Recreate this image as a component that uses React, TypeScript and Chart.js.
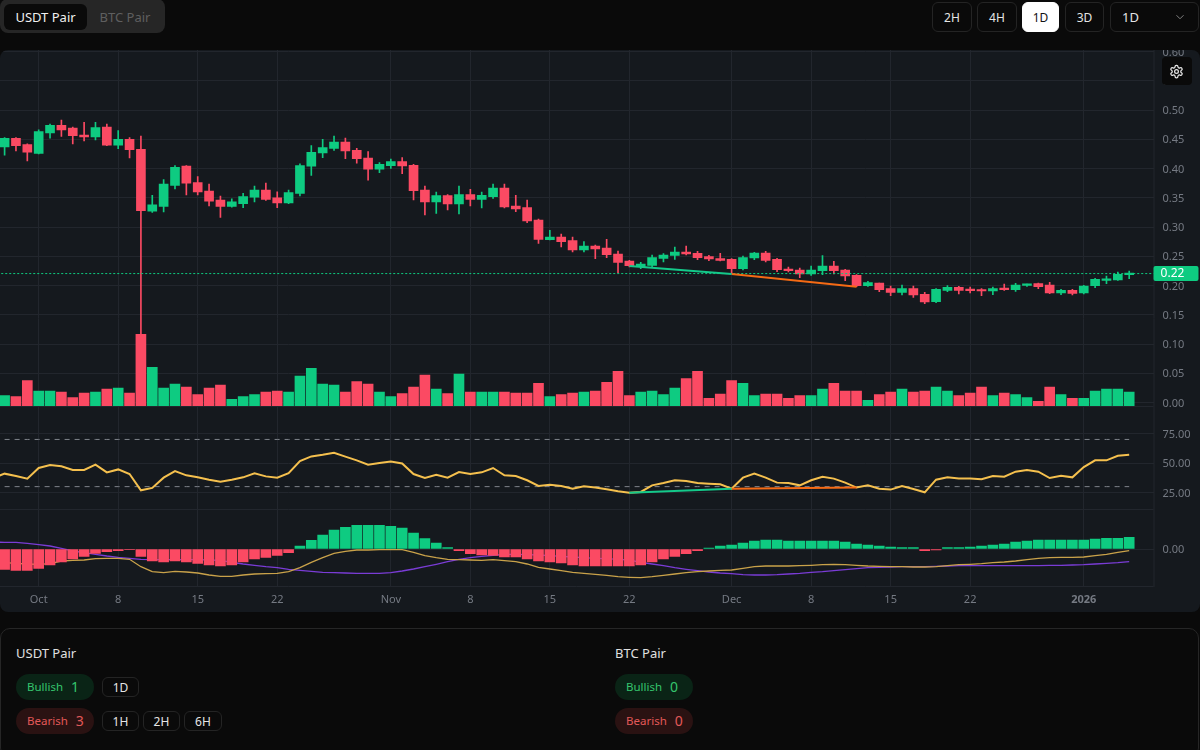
import React, { useEffect, useRef } from "react";
import { Chart, registerables } from "chart.js";

Chart.register(...registerables);

const opens = [
  .437,.4516,.441,.426,.461,.474,.469,.457,.454,.471,
  .440,.450,.433,.327,.335,.371,.404,.376,.3615,.346,
  .335,.340,.351,.363,.350,.341,.3575,.404,.4265,.4345,
  .445,.431,.418,.399,.405,.4117,.4054,.3632,.3427,.3536,
  .3393,.3553,.3473,.3518,.3667,.3359,.3330,.3120,.2783,.2829,
  .2766,.2607,.2675,.2641,.2538,.2419,.2322,.2345,.2464,.2516,
  .2573,.2550,.2493,.2459,.2447,.2288,.2470,.2556,.2447,.2282,
  .2265,.2197,.2254,.2334,.2265,.2174,.1997,.2043,.1946,.1883,
  .1946,.1849,.1724,.1918,.1969,.1940,.1929,.1906,.1952,.1929,
  .2003,.2031,.2009,.1872,.1918,.1872,.1997,.2088,.2094,.2185,
];
const closes = [
  .4516,.439,.428,.463,.474,.466,.456,.454,.470,.440,
  .450,.432,.328,.338,.3735,.402,.375,.360,.344,.335,
  .343,.352,.363,.347,.341,.3587,.405,.4276,.4356,.445,
  .430,.417,.399,.407,.412,.4043,.3621,.3427,.3536,.3393,
  .3553,.3473,.3541,.3667,.3342,.3308,.3103,.2789,.2829,.2749,
  .2607,.2675,.2624,.2527,.2396,.2339,.2367,.2476,.2521,.2573,
  .2538,.2476,.2453,.2430,.2288,.2476,.2556,.2430,.2271,.2253,
  .2197,.2265,.2334,.2254,.2163,.1997,.2049,.1929,.1883,.1946,
  .1838,.1718,.1935,.1969,.1918,.1912,.1906,.1946,.1929,.2009,
  .2026,.1980,.1872,.1918,.1866,.1992,.2106,.2100,.2191,.2202,
];
const highs = [
  .453,.453,.442,.466,.476,.483,.471,.479,.479,.476,
  .465,.453,.4556,.354,.381,.405,.405,.386,.3735,.353,
  .348,.3575,.370,.375,.360,.363,.408,.439,.45,.4556,
  .452,.4345,.429,.41,.416,.4185,.407,.3701,.3598,.3553,
  .3701,.3644,.3598,.3735,.3735,.3541,.3461,.3137,.2943,.2880,
  .2829,.2749,.2692,.2789,.2590,.2430,.2396,.2521,.2544,.2658,
  .2675,.2584,.2516,.2550,.2459,.2504,.2567,.2584,.2464,.2316,
  .2299,.2334,.2510,.2413,.2277,.2185,.2071,.2043,.1992,.2009,
  .1992,.1883,.1946,.1997,.1986,.1975,.1946,.1975,.2026,.2037,
  .2026,.2043,.2054,.1935,.1935,.2003,.2123,.2163,.2231,.2248,
];
const lows = [
  .423,.430,.413,.425,.452,.455,.442,.447,.449,.439,
  .434,.418,.1154,.325,.326,.365,.355,.355,.336,.3165,
  .334,.333,.343,.3456,.333,.340,.353,.388,.4185,.431,
  .417,.409,.380,.393,.40,.391,.3461,.3205,.3234,.3291,
  .3222,.3359,.3325,.3490,.3325,.3262,.3074,.2721,.2778,.2658,
  .2573,.2573,.2459,.2476,.2219,.2316,.2288,.2310,.2402,.2447,
  .2521,.2442,.2424,.2419,.2197,.2265,.2442,.2402,.2236,.2231,
  .2134,.2174,.2185,.2197,.2083,.1980,.1986,.1895,.1826,.1838,
  .1798,.1690,.1707,.1895,.1855,.1872,.1826,.1843,.1918,.1901,
  .1986,.1946,.1861,.1843,.1838,.1855,.1963,.2031,.2088,.2117,
];
const volumes = [
  .0117,.0100,.0373,.0197,.0197,.0179,.0083,.0162,.0179,.0231,
  .0248,.0162,.1165,.0601,.0248,.0316,.0265,.0134,.0248,.0299,
  .0054,.0100,.0134,.0179,.0197,.0179,.0453,.0584,.0316,.0299,
  .0179,.0356,.0316,.0179,.0100,.0151,.0265,.0470,.0231,.0151,
  .0487,.0179,.0179,.0179,.0179,.0162,.0162,.0328,.0100,.0134,
  .0162,.0179,.0197,.0345,.0533,.0117,.0179,.0197,.0134,.0248,
  .0407,.0533,.0071,.0145,.0373,.0328,.0117,.0145,.0145,.0071,
  .0117,.0117,.0231,.0328,.0197,.0197,.0037,.0134,.0179,.0231,
  .0179,.0197,.0265,.0197,.0117,.0162,.0265,.0117,.0162,.0134,
  .0083,.0020,.0265,.0134,.0071,.0071,.0197,.0231,.0231,.0179,
];
const rsi = [
  41.0,39.0,36.8,45.8,48.3,47.2,44.1,44.1,48.6,42.1,
  44.6,40.7,26.9,28.9,37.6,43.2,39.6,37.9,35.9,34.2,
  35.9,37.9,41.3,38.7,37.6,41.5,51.7,55.6,57.0,58.7,
  55.4,52.3,48.6,50.0,51.4,49.7,40.7,37.3,40.1,37.6,
  42.4,40.7,42.1,45.8,39.6,39.0,35.4,30.6,31.7,30.6,
  28.3,30.3,29.2,27.7,26.1,24.9,25.5,31.1,33.1,35.4,
  34.8,33.1,32.5,32.0,28.3,37.6,41.0,37.6,33.4,33.1,
  31.1,35.4,38.4,36.8,33.4,29.2,31.1,28.3,27.5,30.6,
  28.0,25.2,35.9,37.9,36.8,36.8,36.2,39.0,38.4,42.7,
  44.1,42.7,37.3,39.3,37.9,46.6,52.3,52.3,56.2,57.0,
];
const macdHist = [
  -20.3,-21.3,-21.3,-19.3,-16,-13,-10,-7.3,-4.3,-2.7,
  -1.7,-0.7,-7.3,-12,-13,-12,-13,-14.3,-16,-17,
  -16,-13,-10,-8.3,-6.3,-3.7,3,8.7,14,19,
  21.7,23.7,23.7,23.7,22.7,21,16,10.3,6,1.3,
  -1.7,-4.7,-6,-6.3,-8,-8,-10,-12,-13,-14,
  -16,-17,-17,-17,-17,-17,-16,-13,-10,-7.3,
  -4.7,-1.7,1,3,4,6,8,9,9,8,
  8,8,8,8,7,5,4,3,2,1.3,
  1.3,-1.7,-1,1.3,1.3,2,3,4,5,7,
  8,9,9,9,9,9,10,10.7,10.7,11.7,
];
const macdPurple = [
  6.7,6.7,5.7,4.3,3.0,0.7,-2.0,-3.7,-5.3,-7.0,
  -8.3,-9.3,-10.3,-10.7,-10.7,-10.7,-10.7,-10.7,-11.0,-11.3,
  -13.3,-15.0,-16.3,-17.7,-18.7,-20.3,-21.3,-22.3,-23.3,-23.7,
  -24.0,-24.3,-24.3,-24.3,-23.7,-22.0,-20.0,-17.7,-15.3,-12.7,
  -10.3,-8.7,-7.3,-6.3,-5.3,-5.3,-5.7,-6.0,-6.7,-7.3,
  -8.0,-8.7,-9.3,-9.7,-10.3,-11.0,-13.3,-15.0,-16.7,-18.7,
  -20.3,-21.7,-23.0,-24.0,-24.7,-25.7,-26.0,-26.0,-25.7,-25.0,
  -24.3,-23.3,-22.7,-21.7,-20.7,-19.7,-18.7,-18.3,-18.0,-17.7,
  -17.7,-17.7,-17.3,-17.0,-16.7,-16.7,-16.7,-16.7,-16.7,-16.7,
  -16.7,-16.7,-16.3,-16.3,-16.0,-15.7,-15.0,-14.3,-13.7,-12.7,
];
const macdTan = [
  -13.7,-14.3,-15,-15.3,-14.7,-12,-11.3,-11,-9.7,-9.3,
  -9.3,-10.3,-17.7,-22.7,-23.7,-22.3,-23,-24,-26,-27.3,
  -27.3,-26,-25,-24.7,-24.3,-22.7,-18.7,-13.3,-8.7,-4.3,
  -2.3,-1,-1,-0.7,-0.7,-0.7,-3.3,-6.7,-8.7,-10.3,
  -10.7,-11,-11.3,-10.7,-11.7,-12.7,-15,-18.3,-20,-21.7,
  -23.3,-24.3,-25.3,-26.3,-27.7,-28.3,-28.7,-27.7,-26.3,-25,
  -23.7,-22.7,-22,-21.3,-21,-19.3,-17.7,-17,-17,-17,
  -16.7,-16.3,-15.7,-15.3,-15.7,-16.3,-17,-17.3,-17.7,-17.7,
  -18,-18,-17.7,-16.7,-15.7,-15.3,-14.7,-13.7,-13,-12,
  -10.7,-9.3,-8.7,-8.3,-8.3,-8,-6.7,-5.3,-3.3,-1.7,
];
// values for the day just left of the visible range; only their lines enter the pane
const rsiBefore = 37.3;
const purpleBefore = 6.8;
const tanBefore = -13;
const dayBefore = -1;
const rsiUpper = 70;
const rsiLower = 30;
const lastPrice = 0.2204;
const bullDays = [55, 64];
const bullPrice = [0.2333, 0.2197];
const bullRsi = [24.9, 28.3];
const bearDays = [64, 75];
const bearPrice = [0.2197, 0.198];
const bearRsi = [28.3, 29.2];
const xTickDays = [3, 10, 17, 24, 34, 41, 48, 55, 64, 71, 78, 85, 95];
const xTickLabels = ["Oct", "8", "15", "22", "Nov", "8", "15", "22", "Dec", "8", "15", "22", "2026"];
const priceTicks = [0, .05, .1, .15, .2, .25, .3, .35, .4, .45, .5, .55, .6];
const rsiTicks = [25, 50, 75];
const macdTicks = [0];

const GREEN = "#0ecb81";
const RED = "#fb4a63";
const GRID = "#22262d";
const TICK = "#757a83";
const FONT = '"Noto Sans", sans-serif';

const days = opens.map((_, i) => i);
const dirColors = opens.map((o, i) => (closes[i] >= o ? GREEN : RED));

const panePlugin = {
  id: "panes",
  afterDraw(chart: any) {
    const { ctx, chartArea, scales } = chart;
    ctx.save();
    ctx.strokeStyle = GRID;
    ctx.lineWidth = 1;
    [scales.y.bottom, scales.yRsi.bottom, scales.yMacd.bottom].forEach((v: number) => {
      ctx.beginPath();
      ctx.moveTo(chartArea.left, Math.round(v) - 0.5);
      ctx.lineTo(chartArea.right, Math.round(v) - 0.5);
      ctx.stroke();
    });
    ctx.beginPath();
    ctx.moveTo(chartArea.right + 0.5, chartArea.top);
    ctx.lineTo(chartArea.right + 0.5, chartArea.bottom);
    ctx.stroke();
    const py = scales.y.getPixelForValue(lastPrice);
    ctx.fillStyle = GREEN;
    ctx.beginPath();
    ctx.roundRect(chartArea.right, py - 7.5, 45, 15, 2);
    ctx.fill();
    ctx.fillStyle = "#ffffff";
    ctx.font = `12px ${FONT}`;
    ctx.textAlign = "center";
    ctx.textBaseline = "middle";
    ctx.fillText(lastPrice.toFixed(2), chartArea.right + 19, py + 0.5);
    ctx.restore();
  },
};

function yScale(stackWeight: number, min: number, max: number, ticks: number[]) {
  return {
    type: "linear",
    position: "right",
    stack: "panes",
    stackWeight,
    min,
    max,
    afterBuildTicks: (s: any) => {
      s.ticks = ticks.map((value) => ({ value }));
    },
    afterFit: (s: any) => {
      s.width = 46.5;
      s.paddingTop = 0;
      s.paddingBottom = 0;
    },
    border: { display: false },
    grid: { color: GRID, drawTicks: false },
    ticks: {
      color: TICK,
      padding: 9,
      autoSkip: false,
      labelOffset: 1,
      font: { family: FONT, size: 11 },
      callback: (v: number) => Number(v).toFixed(2),
    },
  };
}

function pts(xs: number[], ys: number[]) {
  return xs.map((x, i) => ({ x, y: ys[i] }));
}

function lineSet(label: string, yAxisID: string, data: any[], color: string, width: number, order: number, dash: number[] = []) {
  return {
    type: "line",
    label,
    yAxisID,
    data,
    borderColor: color,
    borderWidth: width,
    borderDash: dash,
    pointRadius: 0,
    tension: 0,
    order,
  };
}

function barSet(label: string, yAxisID: string, data: any[], color: any, thickness: number, order: number, extra: any = {}) {
  return {
    type: "bar",
    label,
    yAxisID,
    data,
    backgroundColor: color,
    barThickness: thickness,
    grouped: false,
    order,
    ...extra,
  };
}

const btnBase: React.CSSProperties = {
  position: "absolute",
  boxSizing: "border-box",
  display: "flex",
  alignItems: "center",
  justifyContent: "center",
  border: "1px solid #222",
  borderRadius: 6,
  color: "#e5e5e5",
  fontSize: 12,
};

function Btn({ x, y, w, h, text, active }: any) {
  return (
    <div style={{ ...btnBase, left: x, top: y, width: w, height: h, background: active ? "#fff" : "#0a0a0a", color: active ? "#111" : "#e5e5e5", borderColor: active ? "#fff" : "#242424" }}>
      {text}
    </div>
  );
}

function Pill({ x, y, text, n, bull }: any) {
  const color = bull ? "#35c46d" : "#e25858";
  return (
    <div style={{ position: "absolute", left: x, top: y, width: 78, height: 26, borderRadius: 13, background: bull ? "#0a2416" : "#2a1212", color, display: "flex", alignItems: "center", paddingLeft: 11, paddingBottom: 1, boxSizing: "border-box", fontSize: 11.5 }}>
      <span>{text}</span>
      <span style={{ marginLeft: 8, fontSize: 14 }}>{n}</span>
    </div>
  );
}

export default function App() {
  const ref = useRef<HTMLCanvasElement>(null);
  useEffect(() => {
    document.body.style.margin = "0";
    document.body.style.background = "#0a0a0a";
    const chart = new Chart(ref.current as any, {
      data: {
        datasets: [
          barSet("Body", "y", days.map((i) => ({ x: i, y: [opens[i], closes[i]] })), dirColors, 9, 1, { minBarLength: 1.5 }),
          barSet("Wick", "y", days.map((i) => ({ x: i, y: [lows[i], highs[i]] })), dirColors, 1, 2),
          lineSet("Bull price", "y", pts(bullDays, bullPrice), "#14c98a", 2, 0),
          lineSet("Bear price", "y", pts(bearDays, bearPrice), "#f56a14", 2, 0),
          lineSet("Last", "y", pts([-1, 102], [lastPrice, lastPrice]), GREEN, 1, 0, [2, 2]),
          barSet("Volume", "y", days.map((i) => ({ x: i, y: volumes[i] })), dirColors, 10, 3, { base: -0.006 }),
          lineSet("RSI", "yRsi", pts([dayBefore, ...days], [rsiBefore, ...rsi]), "#f5c04e", 2, 1),
          lineSet("RSI 70", "yRsi", days.map((x) => ({ x, y: rsiUpper })), "#7f838b", 1, 3, [5, 5]),
          lineSet("RSI 30", "yRsi", days.map((x) => ({ x, y: rsiLower })), "#7f838b", 1, 3, [5, 5]),
          lineSet("Bull RSI", "yRsi", pts(bullDays, bullRsi), "#14c98a", 2, 0),
          lineSet("Bear RSI", "yRsi", pts(bearDays, bearRsi), "#f56a14", 2, 0),
          barSet("Hist", "yMacd", days.map((i) => ({ x: i, y: macdHist[i] })), macdHist.map((v) => (v >= 0 ? GREEN : RED)), 10, 1),
          lineSet("MACD", "yMacd", pts([dayBefore, ...days], [tanBefore, ...macdTan]), "#c9a24a", 1.3, 2),
          lineSet("Signal", "yMacd", pts([dayBefore, ...days], [purpleBefore, ...macdPurple]), "#7a3cd6", 1.3, 3),
        ],
      },
      options: {
        animation: false,
        responsive: false,
        devicePixelRatio: 1,
        layout: { padding: 0 },
        plugins: { legend: { display: false }, tooltip: { enabled: false } },
        scales: {
          x: {
            type: "linear",
            offset: false,
            min: -0.405,
            max: 101.14,
            afterBuildTicks: (s: any) => {
              s.ticks = xTickDays.map((value) => ({ value }));
            },
            afterFit: (s: any) => {
              s.height = 25;
              s.paddingLeft = 0;
              s.paddingRight = 0;
            },
            border: { display: false },
            grid: { color: GRID, drawTicks: false, offset: false },
            ticks: {
              color: TICK,
              padding: 6,
              maxRotation: 0,
              autoSkip: false,
              font: (c: any) => ({ family: FONT, size: 11, weight: c.tick && c.tick.value === 95 ? "bold" : "normal" }),
              callback: (v: number) => xTickLabels[xTickDays.indexOf(v)],
            },
          },
          y: yScale(357, -0.0077, 0.6026, priceTicks),
          yRsi: yScale(103, 10.2, 97.5, rsiTicks),
          yMacd: yScale(77, -38, 39, macdTicks),
        },
      } as any,
      plugins: [panePlugin],
    } as any);
    return () => chart.destroy();
  }, []);

  return (
    <div style={{ position: "absolute", left: 0, top: 0, width: 1200, height: 750, background: "#0a0a0a", fontFamily: FONT, overflow: "hidden" }}>
      <div style={{ position: "absolute", left: 0, top: -1, width: 165, height: 34, background: "#262626", borderRadius: 8 }} />
      <div style={{ position: "absolute", left: 4, top: 4, width: 83, height: 26, background: "#0a0a0a", borderRadius: 6, color: "#f0f0f0", fontSize: 13, display: "flex", alignItems: "center", justifyContent: "center" }}>USDT Pair</div>
      <div style={{ position: "absolute", left: 87, top: 4, width: 76, height: 26, color: "#5f5f5f", fontSize: 13, display: "flex", alignItems: "center", justifyContent: "center" }}>BTC Pair</div>

      <Btn x={932} y={2} w={40} h={30} text="2H" />
      <Btn x={977} y={2} w={40} h={30} text="4H" />
      <Btn x={1022} y={2} w={37} h={30} text="1D" active />
      <Btn x={1065} y={2} w={39} h={30} text="3D" />
      <div style={{ ...btnBase, left: 1110, top: 2, width: 89, height: 30, justifyContent: "flex-start", paddingLeft: 11, fontSize: 13, borderColor: "#242424", background: "#0a0a0a" }}>1D</div>
      <svg style={{ position: "absolute", left: 1173, top: 10 }} width="14" height="14" viewBox="0 0 24 24" fill="none" stroke="#8a8a8a" strokeWidth="1.6">
        <path d="M6 9l6 6 6-6" />
      </svg>

      <div style={{ position: "absolute", left: 0, top: 50, width: 1200, height: 562, background: "#15191e", borderRadius: 8, overflow: "hidden" }}>
        <canvas ref={ref} width={1200} height={562} style={{ display: "block" }} />
      </div>

      <div style={{ position: "absolute", left: 1161.5, top: 57, width: 30, height: 28, background: "#0a0a0a", borderRadius: 4, display: "flex", alignItems: "center", justifyContent: "center" }}>
        <svg width="15" height="15" viewBox="0 0 24 24" fill="none" stroke="#e8e8e8" strokeWidth="2" strokeLinecap="round" strokeLinejoin="round">
          <path d="M12.22 2h-.44a2 2 0 0 0-2 2v.18a2 2 0 0 1-1 1.73l-.43.25a2 2 0 0 1-2 0l-.15-.08a2 2 0 0 0-2.73.73l-.22.38a2 2 0 0 0 .73 2.73l.15.1a2 2 0 0 1 1 1.72v.51a2 2 0 0 1-1 1.74l-.15.09a2 2 0 0 0-.73 2.73l.22.38a2 2 0 0 0 2.73.73l.15-.08a2 2 0 0 1 2 0l.43.25a2 2 0 0 1 1 1.73V20a2 2 0 0 0 2 2h.44a2 2 0 0 0 2-2v-.18a2 2 0 0 1 1-1.73l.43-.25a2 2 0 0 1 2 0l.15.08a2 2 0 0 0 2.73-.73l.22-.39a2 2 0 0 0-.73-2.73l-.15-.08a2 2 0 0 1-1-1.74v-.5a2 2 0 0 1 1-1.74l.15-.09a2 2 0 0 0 .73-2.73l-.22-.38a2 2 0 0 0-2.73-.73l-.15.08a2 2 0 0 1-2 0l-.43-.25a2 2 0 0 1-1-1.73V4a2 2 0 0 0-2-2z" />
          <circle cx="12" cy="12" r="3" />
        </svg>
      </div>

      <div style={{ position: "absolute", left: 0, top: 628, width: 1199, height: 130, border: "1px solid #262626", borderRadius: 10, boxSizing: "border-box", background: "#0a0a0a" }} />
      <div style={{ position: "absolute", left: 16, top: 643, color: "#e0e0e0", fontSize: 13, lineHeight: "20px" }}>USDT Pair</div>
      <div style={{ position: "absolute", left: 615, top: 643, color: "#e0e0e0", fontSize: 13, lineHeight: "20px" }}>BTC Pair</div>
      <Pill x={16} y={674} text="Bullish" n={1} bull />
      <Pill x={16} y={708} text="Bearish" n={3} />
      <Pill x={615} y={674} text="Bullish" n={0} bull />
      <Pill x={615} y={708} text="Bearish" n={0} />
      <Btn x={102} y={677} w={37} h={20} text="1D" />
      <Btn x={102} y={711} w={37} h={20} text="1H" />
      <Btn x={143} y={711} w={37} h={20} text="2H" />
      <Btn x={184} y={711} w={38} h={20} text="6H" />
    </div>
  );
}
